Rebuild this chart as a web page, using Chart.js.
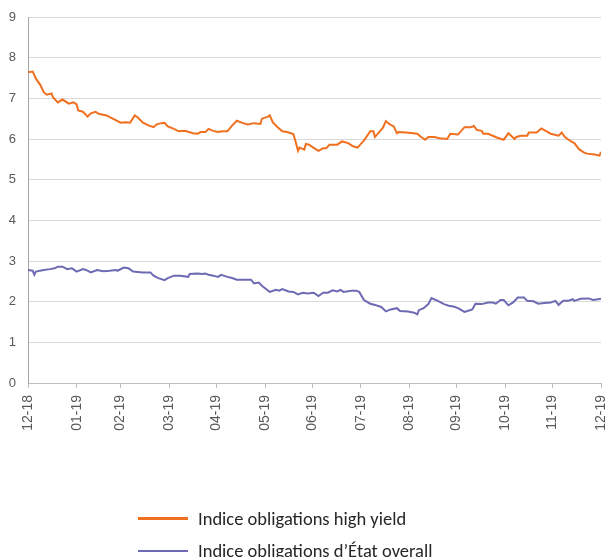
<!DOCTYPE html>
<html>
<head>
<meta charset="utf-8">
<script src="https://cdn.jsdelivr.net/npm/chart.js@4"></script>
<style>
body { margin: 0; background: #fff; }
#wrap { position: relative; width: 605px; height: 557px; overflow: hidden; }
#legend { position: absolute; left: 138px; top: 502px; font-family: Carlito, Lato, sans-serif; font-size: 18.5px; color: #262626; }
.item { display: flex; align-items: center; height: 32.5px; white-space: nowrap; }
.swatch { width: 50px; height: 2.5px; margin-right: 10px; }
</style>
</head>
<body>
<div id="wrap">
  <canvas id="chart" width="605" height="557"></canvas>
  <div id="legend"></div>
</div>
<script>
// month-end positions (days since 31/12/2018) and their labels
const monthDays = [0, 31, 59, 90, 120, 151, 181, 212, 243, 273, 304, 334, 365];
const tickLabels = ['12-18', '01-19', '02-19', '03-19', '04-19', '05-19', '06-19',
                    '07-19', '08-19', '09-19', '10-19', '11-19', '12-19'];

// Indice obligations high yield
const hyDays = [0, 3, 5, 8, 10, 12, 15, 16, 19, 22, 26, 29, 31, 32, 35, 38, 40, 43, 45, 50,
  54, 59, 62, 65, 68, 70, 73, 77, 80, 82, 85, 87, 89, 93, 96, 100, 105, 108, 110, 113,
  115, 118, 121, 124, 127, 130, 133, 137, 140, 144, 148, 149, 153, 154, 156, 159, 162, 165, 169, 170,
  172, 173, 176, 177, 179, 182, 185, 188, 190, 192, 195, 197, 200, 204, 207, 210, 212, 214, 218, 220,
  221, 223, 226, 228, 230, 233, 235, 236, 241, 248, 250, 253, 255, 259, 262, 267, 269, 274, 278, 282,
  284, 286, 289, 290, 293, 296, 299, 303, 306, 310, 311, 314, 318, 319, 324, 327, 333, 338, 340, 342,
  346, 348, 351, 354, 356, 361, 364, 365];
const hyValues = [7.64, 7.66, 7.49, 7.32, 7.15, 7.09, 7.12, 7.02, 6.90, 6.97, 6.87, 6.90, 6.85, 6.70, 6.67, 6.55, 6.63, 6.67, 6.62, 6.58,
  6.50, 6.40, 6.41, 6.40, 6.58, 6.53, 6.41, 6.33, 6.29, 6.36, 6.39, 6.40, 6.31, 6.25, 6.19, 6.20, 6.14, 6.13, 6.17, 6.17,
  6.25, 6.20, 6.17, 6.19, 6.19, 6.33, 6.45, 6.39, 6.36, 6.39, 6.37, 6.50, 6.55, 6.58, 6.41, 6.29, 6.19, 6.17, 6.12, 6.00,
  5.71, 5.79, 5.74, 5.88, 5.86, 5.78, 5.71, 5.77, 5.77, 5.86, 5.86, 5.86, 5.94, 5.90, 5.82, 5.79, 5.88, 5.96, 6.19, 6.19,
  6.05, 6.14, 6.27, 6.44, 6.37, 6.31, 6.14, 6.17, 6.16, 6.13, 6.06, 5.98, 6.05, 6.05, 6.02, 6.00, 6.13, 6.11, 6.29, 6.29,
  6.32, 6.22, 6.20, 6.13, 6.13, 6.08, 6.03, 5.98, 6.14, 6.00, 6.05, 6.08, 6.08, 6.16, 6.16, 6.26, 6.13, 6.08, 6.16, 6.05,
  5.94, 5.90, 5.75, 5.67, 5.64, 5.62, 5.59, 5.68];

// Indice obligations d'État overall
const govDays = [0, 3, 4, 5, 10, 14, 17, 19, 22, 25, 28, 31, 35, 37, 40, 44, 48, 52, 56, 57,
  61, 64, 67, 70, 73, 78, 80, 83, 87, 89, 93, 97, 102, 103, 108, 111, 113, 115, 118, 121,
  123, 127, 130, 133, 140, 142, 144, 147, 149, 153, 154, 158, 160, 162, 166, 169, 172, 175, 178, 182,
  185, 188, 191, 194, 197, 199, 201, 206, 209, 211, 214, 218, 221, 225, 228, 231, 235, 237, 242, 246,
  248, 249, 252, 255, 257, 261, 265, 268, 271, 274, 278, 280, 283, 285, 289, 293, 296, 298, 301, 303,
  306, 309, 312, 316, 318, 322, 325, 329, 333, 336, 338, 340, 341, 344, 347, 348, 352, 357, 360, 363,
  365];
const govValues = [2.78, 2.76, 2.66, 2.74, 2.78, 2.80, 2.82, 2.86, 2.86, 2.80, 2.82, 2.74, 2.80, 2.78, 2.72, 2.78, 2.75, 2.76, 2.78, 2.76,
  2.84, 2.82, 2.74, 2.73, 2.72, 2.72, 2.64, 2.58, 2.53, 2.58, 2.64, 2.64, 2.61, 2.68, 2.69, 2.68, 2.69, 2.66, 2.64, 2.61,
  2.66, 2.61, 2.58, 2.54, 2.54, 2.54, 2.45, 2.47, 2.39, 2.27, 2.24, 2.29, 2.27, 2.31, 2.25, 2.24, 2.18, 2.22, 2.20, 2.22,
  2.14, 2.22, 2.22, 2.28, 2.25, 2.29, 2.24, 2.27, 2.27, 2.24, 2.04, 1.95, 1.92, 1.87, 1.76, 1.81, 1.84, 1.77, 1.76, 1.73,
  1.69, 1.79, 1.84, 1.94, 2.09, 2.02, 1.94, 1.90, 1.88, 1.84, 1.75, 1.77, 1.81, 1.95, 1.94, 1.98, 1.98, 1.95, 2.04, 2.04,
  1.91, 1.98, 2.10, 2.10, 2.02, 2.01, 1.95, 1.97, 1.98, 2.02, 1.92, 1.99, 2.02, 2.02, 2.06, 2.02, 2.07, 2.08, 2.04, 2.06,
  2.07];

const seriesNames = ['Indice obligations high yield', 'Indice obligations d\u2019\u00c9tat overall'];
const seriesColors = ['#f0701f', '#6d6ab3'];

const toPoints = (days, vals) => days.map((d, i) => ({ x: d, y: vals[i] }));

const ctx = document.getElementById('chart').getContext('2d');
new Chart(ctx, {
    type: 'line',
    data: {
        datasets: [{
            label: seriesNames[0],
            data: toPoints(hyDays, hyValues),
            borderColor: seriesColors[0],
            borderWidth: 2,
            pointRadius: 0,
            tension: 0
        }, {
            label: seriesNames[1],
            data: toPoints(govDays, govValues),
            borderColor: seriesColors[1],
            borderWidth: 2,
            pointRadius: 0,
            tension: 0
        }]
    },
    options: {
        responsive: false,
        animation: false,
        layout: {
            padding: { top: 17, left: 0, right: 4, bottom: 117 }
        },
        scales: {
            x: {
                type: 'linear',
                min: 0,
                max: 365,
                afterBuildTicks: (scale) => {
                    scale.ticks = monthDays.map(v => ({ value: v }));
                },
                afterFit: (scale) => {
                    scale.height = 57;
                    scale.paddingLeft = 0;
                    scale.paddingRight = 0;
                },
                ticks: {
                    autoSkip: false,
                    minRotation: 90,
                    maxRotation: 90,
                    padding: 7,
                    color: '#595959',
                    font: { family: 'Liberation Sans, Arial, sans-serif', size: 14 },
                    callback: (v) => tickLabels[monthDays.indexOf(v)]
                },
                grid: {
                    drawOnChartArea: false,
                    drawTicks: true,
                    tickLength: 5,
                    color: '#bfbfbf'
                },
                border: { color: '#bfbfbf' }
            },
            y: {
                min: 0,
                max: 9,
                afterFit: (scale) => {
                    scale.width = 28;
                    scale.paddingTop = 0;
                    scale.paddingBottom = 0;
                },
                ticks: {
                    stepSize: 1,
                    padding: 12,
                    color: '#595959',
                    font: { family: 'Liberation Sans, Arial, sans-serif', size: 13 }
                },
                grid: {
                    drawTicks: false,
                    color: '#d9d9d9'
                },
                border: { color: '#a6a6a6' }
            }
        },
        plugins: {
            legend: { display: false },
            tooltip: { enabled: false }
        }
    }
});

// legend stacked under the chart
const legend = document.getElementById('legend');
seriesNames.forEach((name, i) => {
    const item = document.createElement('div');
    item.className = 'item';
    const sw = document.createElement('span');
    sw.className = 'swatch';
    sw.style.background = seriesColors[i];
    const txt = document.createElement('span');
    txt.textContent = name;
    item.appendChild(sw);
    item.appendChild(txt);
    legend.appendChild(item);
});
</script>
</body>
</html>
